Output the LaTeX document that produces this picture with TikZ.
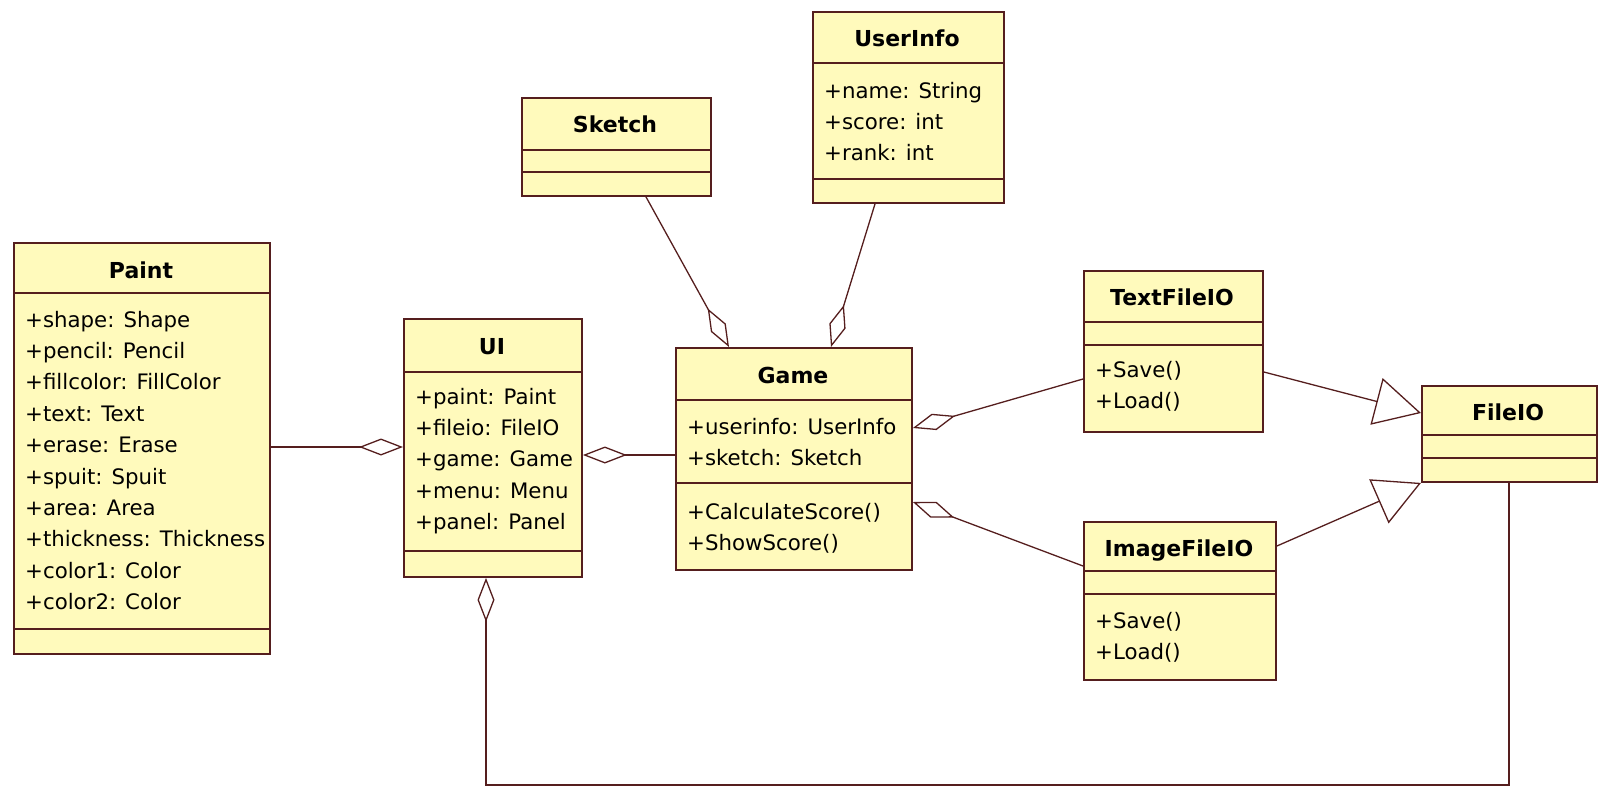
\documentclass[tikz,border=0pt]{standalone}
\usepackage{fontspec}
\setmainfont{DejaVu Sans}
\usetikzlibrary{arrows.meta,calc}

\definecolor{umlfill}{RGB}{255,250,188}
\definecolor{umlline}{RGB}{85,30,30}

\tikzset{
  classbox/.style={draw=umlline, fill=umlfill, line width=1.9pt, anchor=north west, inner sep=0pt},
  divider/.style={draw=umlline, line width=1.9pt},
  classname/.style={anchor=base, font=\fontsize{22}{26}\selectfont\bfseries},
  members/.style={anchor=north west, inner sep=0pt, align=left, font=\fontsize{21.3}{31.4}\selectfont},
  link/.style={draw=umlline, line width=1.3pt},
  aggr/.style={link, -{Diamond[open, length=44pt, width=17pt]}},
  inherit/.style={link, -{Triangle[open, length=46pt, width=48pt]}},
}

\begin{document}
\begin{tikzpicture}[x=1pt, y=-1pt]
\useasboundingbox (0,0) rectangle (1599,788);

% classes
\node [classbox, minimum width=256pt, minimum height=411pt] (paint) at (13,242) {};
\draw [divider] (paint.west |- 0,293) -- (paint.east |- 0,293);
\draw [divider] (paint.west |- 0,629) -- (paint.east |- 0,629);
\node [classname] (paint-name) at (141,278) {Paint};
\node [members] (paint-attr) at (25,305) {\strut+shape: Shape\\+pencil: Pencil\\+fillcolor: FillColor\\+text: Text\\+erase: Erase\\+spuit: Spuit\\+area: Area\\+thickness: Thickness\\+color1: Color\\+color2: Color};

\node [classbox, minimum width=178pt, minimum height=258pt] (ui) at (403,318) {};
\draw [divider] (ui.west |- 0,372) -- (ui.east |- 0,372);
\draw [divider] (ui.west |- 0,551) -- (ui.east |- 0,551);
\node [classname] (ui-name) at (492,354) {UI};
\node [members] (ui-attr) at (415,382) {\strut+paint: Paint\\+fileio: FileIO\\+game: Game\\+menu: Menu\\+panel: Panel};

\node [classbox, minimum width=236pt, minimum height=222pt] (game) at (675,347) {};
\draw [divider] (game.west |- 0,400) -- (game.east |- 0,400);
\draw [divider] (game.west |- 0,483) -- (game.east |- 0,483);
\node [classname] (game-name) at (793,383) {Game};
\node [members] (game-attr) at (687,412) {\strut+userinfo: UserInfo\\+sketch: Sketch};
\node [members] (game-ops) at (687,497) {\strut+CalculateScore()\\+ShowScore()};

\node [classbox, minimum width=189pt, minimum height=98pt] (sketch) at (521,97) {};
\draw [divider] (sketch.west |- 0,150) -- (sketch.east |- 0,150);
\draw [divider] (sketch.west |- 0,172) -- (sketch.east |- 0,172);
\node [classname] (sketch-name) at (615,132) {Sketch};

\node [classbox, minimum width=191pt, minimum height=191pt] (userinfo) at (812,11) {};
\draw [divider] (userinfo.west |- 0,63) -- (userinfo.east |- 0,63);
\draw [divider] (userinfo.west |- 0,179) -- (userinfo.east |- 0,179);
\node [classname] (userinfo-name) at (907,46) {UserInfo};
\node [members] (userinfo-attr) at (824,76) {\strut+name: String\\+score: int\\+rank: int};

\node [classbox, minimum width=179pt, minimum height=161pt] (textio) at (1083,270) {};
\draw [divider] (textio.west |- 0,322) -- (textio.east |- 0,322);
\draw [divider] (textio.west |- 0,345) -- (textio.east |- 0,345);
\node [classname] (textio-name) at (1172,305) {TextFileIO};
\node [members] (textio-ops) at (1095,355) {\strut+Save()\\+Load()};

\node [classbox, minimum width=192pt, minimum height=158pt] (imageio) at (1083,521) {};
\draw [divider] (imageio.west |- 0,571) -- (imageio.east |- 0,571);
\draw [divider] (imageio.west |- 0,594) -- (imageio.east |- 0,594);
\node [classname] (imageio-name) at (1179,556) {ImageFileIO};
\node [members] (imageio-ops) at (1095,606) {\strut+Save()\\+Load()};

\node [classbox, minimum width=175pt, minimum height=96pt] (fileio) at (1421,385) {};
\draw [divider] (fileio.west |- 0,435) -- (fileio.east |- 0,435);
\draw [divider] (fileio.west |- 0,458) -- (fileio.east |- 0,458);
\node [classname] (fileio-name) at (1508,420) {FileIO};

% relations
\draw [aggr] (paint.east |- 0,447) -- (ui.west |- 0,447);
\draw [aggr] (game.west |- 0,455) -- (ui.east |- 0,455);
\draw [aggr] (sketch.south -| 646,0) -- (game.north -| 729,0);
\draw [aggr] (userinfo.south -| 875,0) -- (game.north -| 831,0);
\draw [aggr] (textio.west |- 0,379) -- (game.east |- 0,428);
\draw [aggr] (imageio.west |- 0,566) -- (game.east |- 0,502);
\draw [inherit] (textio.east |- 0,372) -- (fileio.west |- 0,413);
\draw [inherit] (imageio.east |- 0,546) -- (fileio.south west);
\coordinate (busR) at (1509,785);
\coordinate (busL) at (486,785);
\draw [aggr] (fileio.south -| busR) -- (busR) -- (busL) -- (ui.south -| busL);
\end{tikzpicture}
\end{document}
